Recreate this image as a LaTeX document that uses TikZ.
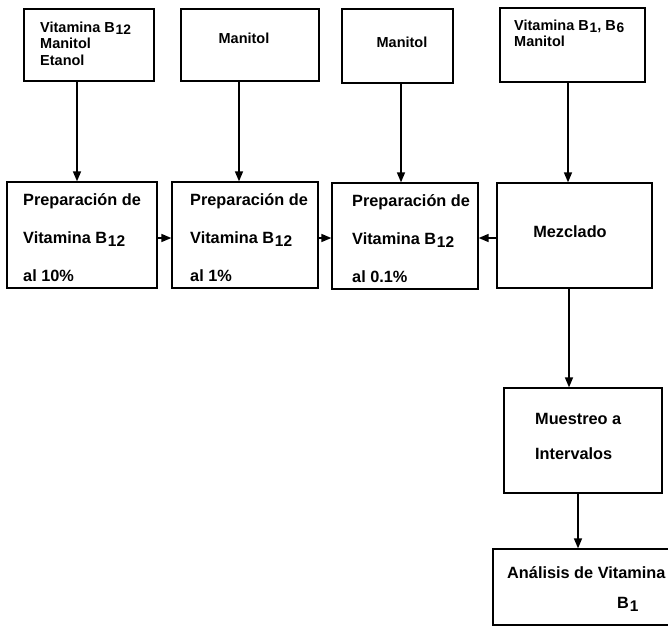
\documentclass[tikz,border=0pt]{standalone}
\usepackage{fontspec}
\setmainfont{Liberation Sans}
\usetikzlibrary{arrows.meta}

% lowered index set almost at full size
\newcommand\lowix[1]{\kern0.8pt\raisebox{-0.35ex}{\scalebox{0.95}{#1}}}

\tikzset{
  stepbox/.style={draw, line width=1.3pt, inner sep=0pt, anchor=center},
  toptext/.style={font=\bfseries\fontsize{14.5}{16.5}\selectfont, align=left, inner sep=0pt},
  midtext/.style={font=\bfseries\fontsize{16.3}{38}\selectfont, align=left, inner sep=0pt},
  lowtext/.style={font=\bfseries\fontsize{16.3}{35}\selectfont, align=left, inner sep=0pt},
  flow/.style={line width=1.5pt, -{Triangle[length=10pt,width=8pt]}}
}

\begin{document}
\begin{tikzpicture}[x=1pt,y=-1pt]
\useasboundingbox (0,0) rectangle (668,627);
\fill[white] (0,0) rectangle (668,627);

% ---- ingredient boxes ----
\node[stepbox, minimum width=130pt, minimum height=72pt] (in1) at (89,45) {};
\node[stepbox, minimum width=138pt, minimum height=72pt] (in2) at (250,45) {};
\node[stepbox, minimum width=111pt, minimum height=74pt] (in3) at (397.5,46) {};
\node[stepbox, minimum width=145pt, minimum height=74pt] (in4) at (572.5,45) {};

\node[toptext, anchor=north west] (in1t) at (40,21.5)
  {Vitamina B\lowix{12}\\Manitol\\Etanol};
\node[toptext, anchor=base] (in2t) at (244,43) {Manitol};
\node[toptext, anchor=base] (in3t) at (402,47) {Manitol};
\node[toptext, anchor=north west] (in4t) at (514,19.5)
  {Vitamina B\lowix{1}, B\lowix{6}\\Manitol};

% ---- process boxes ----
\node[stepbox, minimum width=150pt, minimum height=106pt] (p1) at (82,235) {};
\node[stepbox, minimum width=146pt, minimum height=106pt] (p2) at (245,235) {};
\node[stepbox, minimum width=146pt, minimum height=106pt] (p3) at (405,236) {};
\node[stepbox, minimum width=155pt, minimum height=105pt] (mix) at (574.5,235.5) {};

\node[midtext, anchor=west] (p1t) at (23,237.5)
  {Preparación de\\Vitamina B\lowix{12}\\al 10\%};
\node[midtext, anchor=west] (p2t) at (190,237.5)
  {Preparación de\\Vitamina B\lowix{12}\\al 1\%};
\node[midtext, anchor=west] (p3t) at (352,239)
  {Preparación de\\Vitamina B\lowix{12}\\al 0.1\%};
\node[midtext, anchor=base] (mixt) at (570,237) {Mezclado};

% ---- sampling and analysis ----
\node[stepbox, minimum width=158pt, minimum height=105pt] (samp) at (583,440.5) {};
\node[lowtext, anchor=north west] (sampt) at (535,413) {Muestreo a\\Intervalos};

\node[stepbox, minimum width=190pt, minimum height=76pt] (anal) at (588,587) {};
\node[lowtext, anchor=base west] (analt) at (507,578) {Análisis de Vitamina};
\node[lowtext, anchor=base west] (analb) at (617,608) {B\lowix{1}};

% ---- connectors ----
\draw[flow] (in1.south -| 77,0) -- (p1.north -| 77,0);
\draw[flow] (in2.south -| 239,0) -- (p2.north -| 239,0);
\draw[flow] (in3.south -| 401,0) -- (p3.north -| 401,0);
\draw[flow] (in4.south -| 568,0) -- (mix.north -| 568,0);

\draw[flow] (p1.east |- 0,238) -- (p2.west |- 0,238);
\draw[flow] (p2.east |- 0,238) -- (p3.west |- 0,238);
\draw[flow] (mix.west |- 0,238) -- (p3.east |- 0,238);

\draw[flow] (mix.south -| 569,0) -- (samp.north -| 569,0);
\draw[flow] (samp.south -| 578,0) -- (anal.north -| 578,0);
\end{tikzpicture}
\end{document}
